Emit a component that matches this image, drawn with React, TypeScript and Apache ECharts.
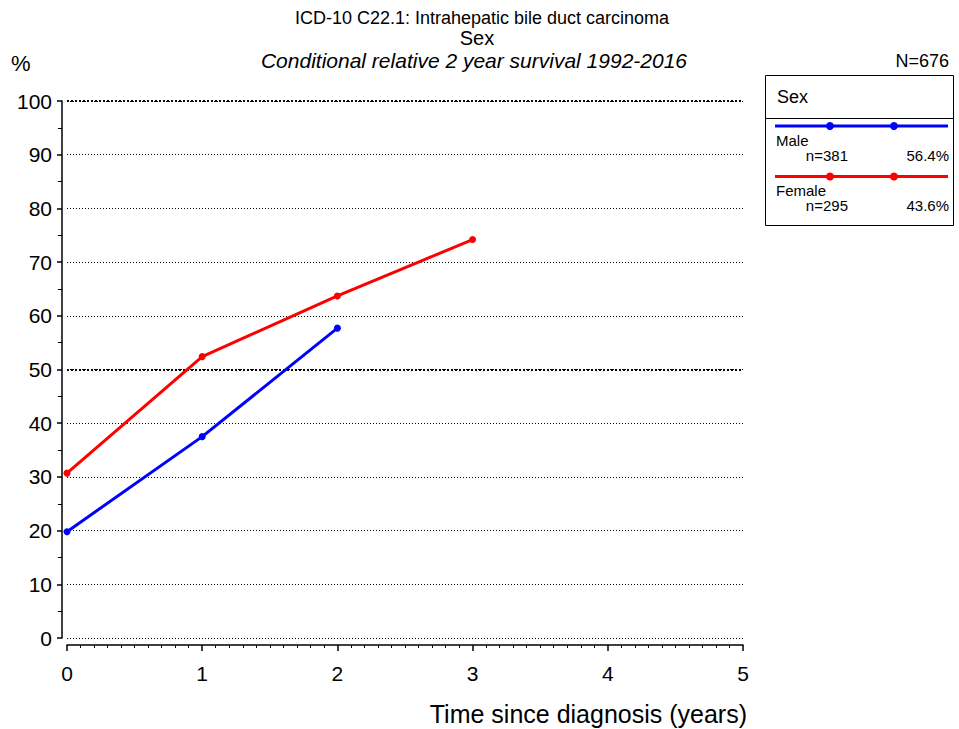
import React, { useEffect, useRef } from "react";
import * as echarts from "echarts";

const years = [0, 1, 2, 3];
const maleValues = [19.8, 37.5, 57.7];
const femaleValues = [30.7, 52.4, 63.7, 74.2];
const seriesNames = ["Male", "Female"];
const seriesCounts = ["n=381", "n=295"];
const seriesShares = ["56.4%", "43.6%"];
const seriesColors = ["#0000ff", "#ff0000"];

const FONT = "Liberation Sans, Arial, sans-serif";

export default function App() {
  const ref = useRef<HTMLDivElement>(null);
  useEffect(() => {
    if (!ref.current) return;
    const chart = echarts.init(ref.current, null, { renderer: "svg" });
    const toPairs = (vals: number[]) => vals.map((v, i) => [years[i], v]);
    const legendGraphics: any[] = [
      {
        type: "rect",
        shape: { x: 765.5, y: 75.5, width: 188, height: 150 },
        style: { fill: "#fff", stroke: "#000", lineWidth: 1 },
      },
      {
        type: "line",
        shape: { x1: 765.5, y1: 118.5, x2: 953.5, y2: 118.5 },
        style: { stroke: "#000", lineWidth: 1 },
      },
      {
        type: "text",
        x: 777,
        y: 97,
        style: { text: "Sex", font: `18px ${FONT}`, fill: "#000", verticalAlign: "middle" },
      },
    ];
    seriesNames.forEach((name, i) => {
      const y0 = 126 + i * 50.5;
      legendGraphics.push(
        {
          type: "line",
          shape: { x1: 775, y1: y0, x2: 948, y2: y0 },
          style: { stroke: seriesColors[i], lineWidth: 3 },
        },
        { type: "circle", shape: { cx: 830, cy: y0, r: 4 }, style: { fill: seriesColors[i] } },
        { type: "circle", shape: { cx: 894, cy: y0, r: 4 }, style: { fill: seriesColors[i] } },
        {
          type: "text",
          x: 776,
          y: y0 + 14,
          style: { text: name, font: `15px ${FONT}`, fill: "#000", verticalAlign: "middle" },
        },
        {
          type: "text",
          x: 848,
          y: y0 + 29,
          style: { text: seriesCounts[i], font: `15px ${FONT}`, fill: "#000", align: "right", verticalAlign: "middle" },
        },
        {
          type: "text",
          x: 949,
          y: y0 + 29,
          style: { text: seriesShares[i], font: `15px ${FONT}`, fill: "#000", align: "right", verticalAlign: "middle" },
        }
      );
    });

    const option: any = {
      animation: false,
      backgroundColor: "#fff",
      grid: { left: 67, right: 216, top: 101, bottom: 91, containLabel: false },
      xAxis: {
        type: "value",
        min: 0,
        max: 5,
        interval: 1,
        offset: 7,
        axisLine: { show: true, onZero: false, lineStyle: { color: "#000", width: 1.5 } },
        axisTick: { show: true, length: 6, lineStyle: { color: "#000", width: 1.5 } },
        minorTick: { show: true, splitNumber: 10, length: 3, lineStyle: { color: "#000", width: 1 } },
        axisLabel: { color: "#000", fontSize: 21, fontFamily: FONT, margin: 18 },
        splitLine: { show: false },
      },
      yAxis: {
        type: "value",
        min: 0,
        max: 100,
        interval: 10,
        offset: 5,
        axisLine: { show: true, onZero: false, lineStyle: { color: "#000", width: 1.5 } },
        axisTick: { show: true, length: 5, lineStyle: { color: "#000", width: 1.5 } },
        minorTick: { show: true, splitNumber: 2, length: 4, lineStyle: { color: "#000", width: 1 } },
        axisLabel: { color: "#000", fontSize: 21, fontFamily: FONT, margin: 10 },
        splitLine: { show: true, lineStyle: { color: "#000", width: 1, type: [1, 2] } },
      },
      series: [
        {
          name: seriesNames[0],
          type: "line",
          data: toPairs(maleValues),
          lineStyle: { color: seriesColors[0], width: 3 },
          itemStyle: { color: seriesColors[0] },
          symbol: "circle",
          symbolSize: 7,
          z: 5,
        },
        {
          name: seriesNames[1],
          type: "line",
          data: toPairs(femaleValues),
          lineStyle: { color: seriesColors[1], width: 3 },
          itemStyle: { color: seriesColors[1] },
          symbol: "circle",
          symbolSize: 7,
          z: 5,
          markLine: {
            silent: true,
            symbol: "none",
            label: { show: false },
            lineStyle: { color: "#000", width: 2, type: [2, 2] },
            data: [{ yAxis: 100 }, { yAxis: 50 }],
          },
        },
      ],
      graphic: [
        {
          type: "text",
          x: 482,
          y: 18,
          style: { text: "ICD-10 C22.1: Intrahepatic bile duct carcinoma", font: `18px ${FONT}`, fill: "#000", align: "center", verticalAlign: "middle" },
        },
        {
          type: "text",
          x: 477,
          y: 38,
          style: { text: "Sex", font: `20px ${FONT}`, fill: "#000", align: "center", verticalAlign: "middle" },
        },
        {
          type: "text",
          x: 474,
          y: 60,
          style: { text: "Conditional relative 2 year survival 1992-2016", font: `italic 21px ${FONT}`, fill: "#000", align: "center", verticalAlign: "middle" },
        },
        {
          type: "text",
          x: 11,
          y: 63,
          style: { text: "%", font: `22px ${FONT}`, fill: "#000", verticalAlign: "middle" },
        },
        {
          type: "text",
          x: 949,
          y: 61,
          style: { text: "N=676", font: `18px ${FONT}`, fill: "#000", align: "right", verticalAlign: "middle" },
        },
        {
          type: "text",
          x: 747,
          y: 714,
          style: { text: "Time since diagnosis (years)", font: `25px ${FONT}`, fill: "#000", align: "right", verticalAlign: "middle" },
        },
        ...legendGraphics,
      ],
    };
    chart.setOption(option);
    return () => chart.dispose();
  }, []);
  return <div ref={ref} style={{ width: 959, height: 729, position: "absolute", left: 0, top: 0 }} />;
}
